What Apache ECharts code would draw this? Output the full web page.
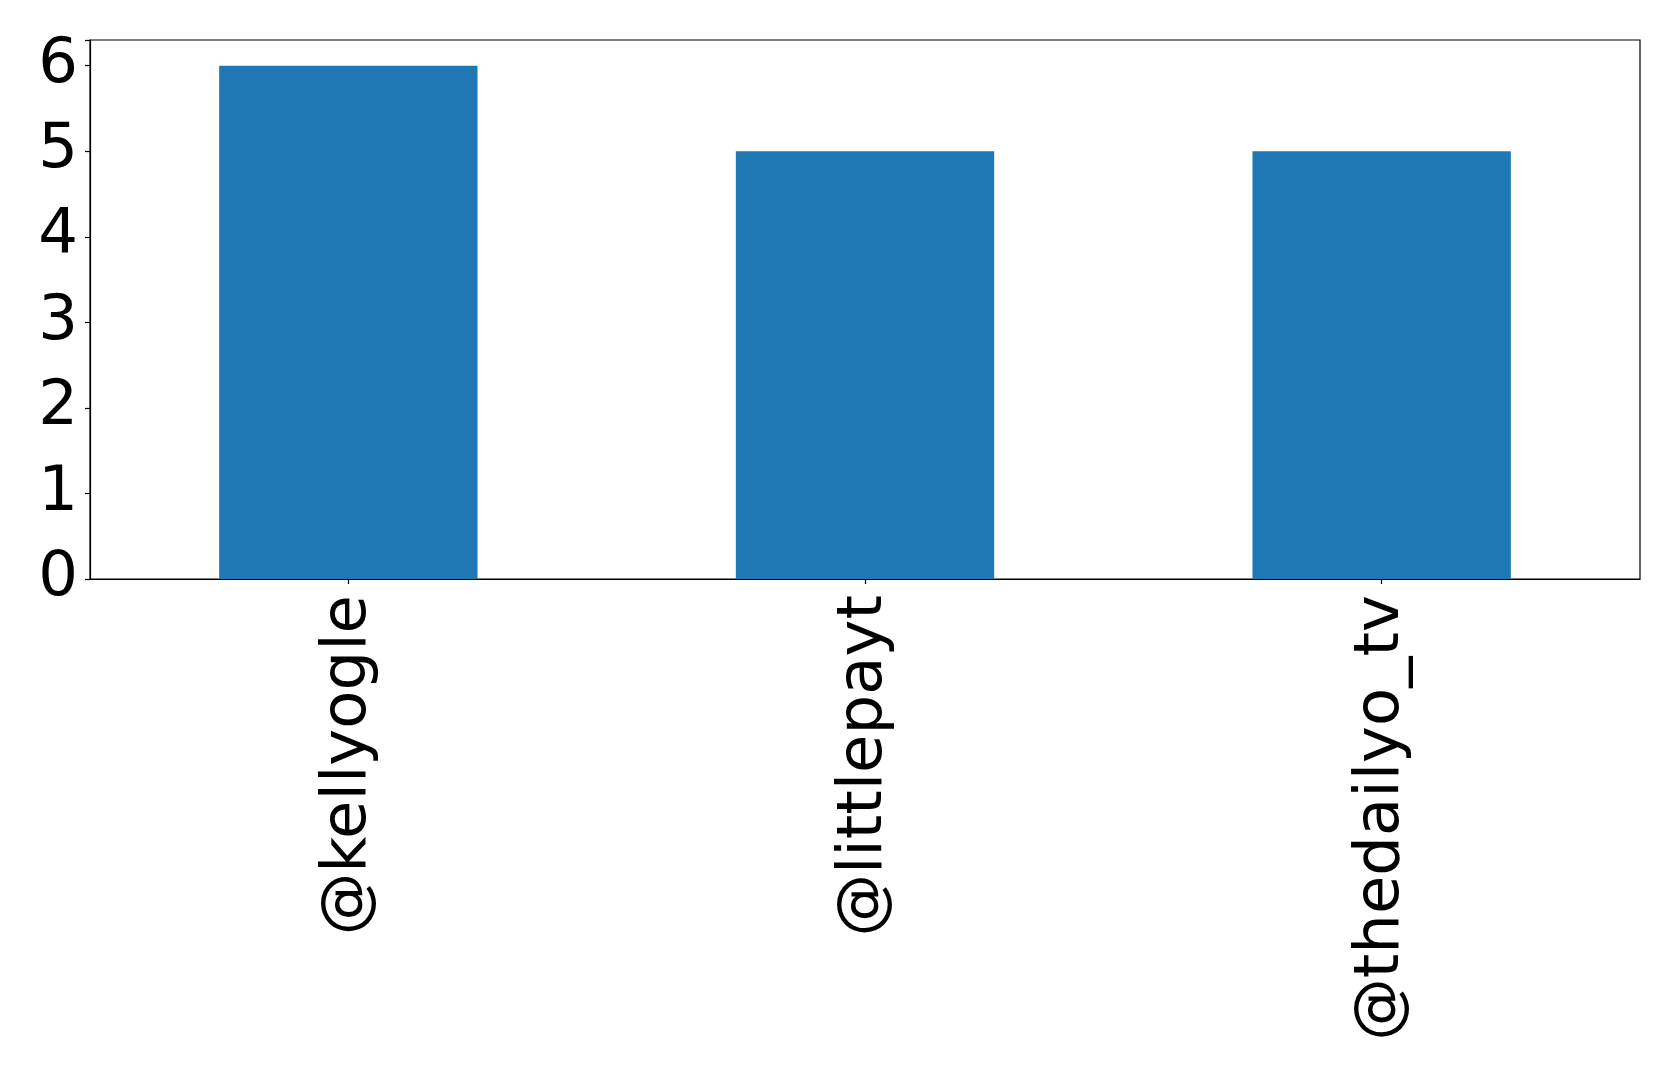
<!DOCTYPE html>
<html>
<head>
<meta charset="utf-8">
<script src="https://cdn.jsdelivr.net/npm/echarts@6/dist/echarts.min.js"></script>
<style>
html,body{margin:0;padding:0;background:#fff;}
#chart{width:1679px;height:1074px;}
</style>
</head>
<body>
<div id="chart"></div>
<script>
const categories = ['@kellyogle', '@littlepayt', '@thedailyo_tv'];
const values = [6, 5, 5];
const yTicks = [0, 1, 2, 3, 4, 5, 6];

const chart = echarts.init(document.getElementById('chart'), null, {renderer: 'canvas'});
const font = 'DejaVu Sans';
chart.setOption({
  animation: false,
  backgroundColor: '#ffffff',
  grid: {
    left: 90, top: 40, right: 39, bottom: 495,
    show: true, borderColor: '#000', borderWidth: 1.2, backgroundColor: 'transparent',
    containLabel: false
  },
  xAxis: {
    type: 'category',
    data: categories,
    axisLine: {show: true, lineStyle: {color: '#000', width: 1.2}},
    axisTick: {show: true, alignWithLabel: true, length: 5, lineStyle: {color: '#000', width: 1.2}},
    axisLabel: {
      rotate: 90, color: '#000', fontFamily: font, fontSize: 62.5, margin: 16,
      interval: 0
    },
    splitLine: {show: false}
  },
  yAxis: {
    type: 'value',
    min: 0, max: 6.3, interval: 1,
    axisLine: {show: true, lineStyle: {color: '#000', width: 1.2}},
    axisTick: {show: true, length: 5, lineStyle: {color: '#000', width: 1.2}},
    axisLabel: {
      color: '#000', fontFamily: font, fontSize: 62.5, margin: 12,
      formatter: function (v) { return yTicks.indexOf(v) >= 0 ? String(v) : ''; }
    },
    splitLine: {show: false}
  },
  series: [{
    type: 'bar',
    data: values,
    barWidth: '50%',
    itemStyle: {color: '#1f77b4'}
  }]
});
</script>
</body>
</html>
